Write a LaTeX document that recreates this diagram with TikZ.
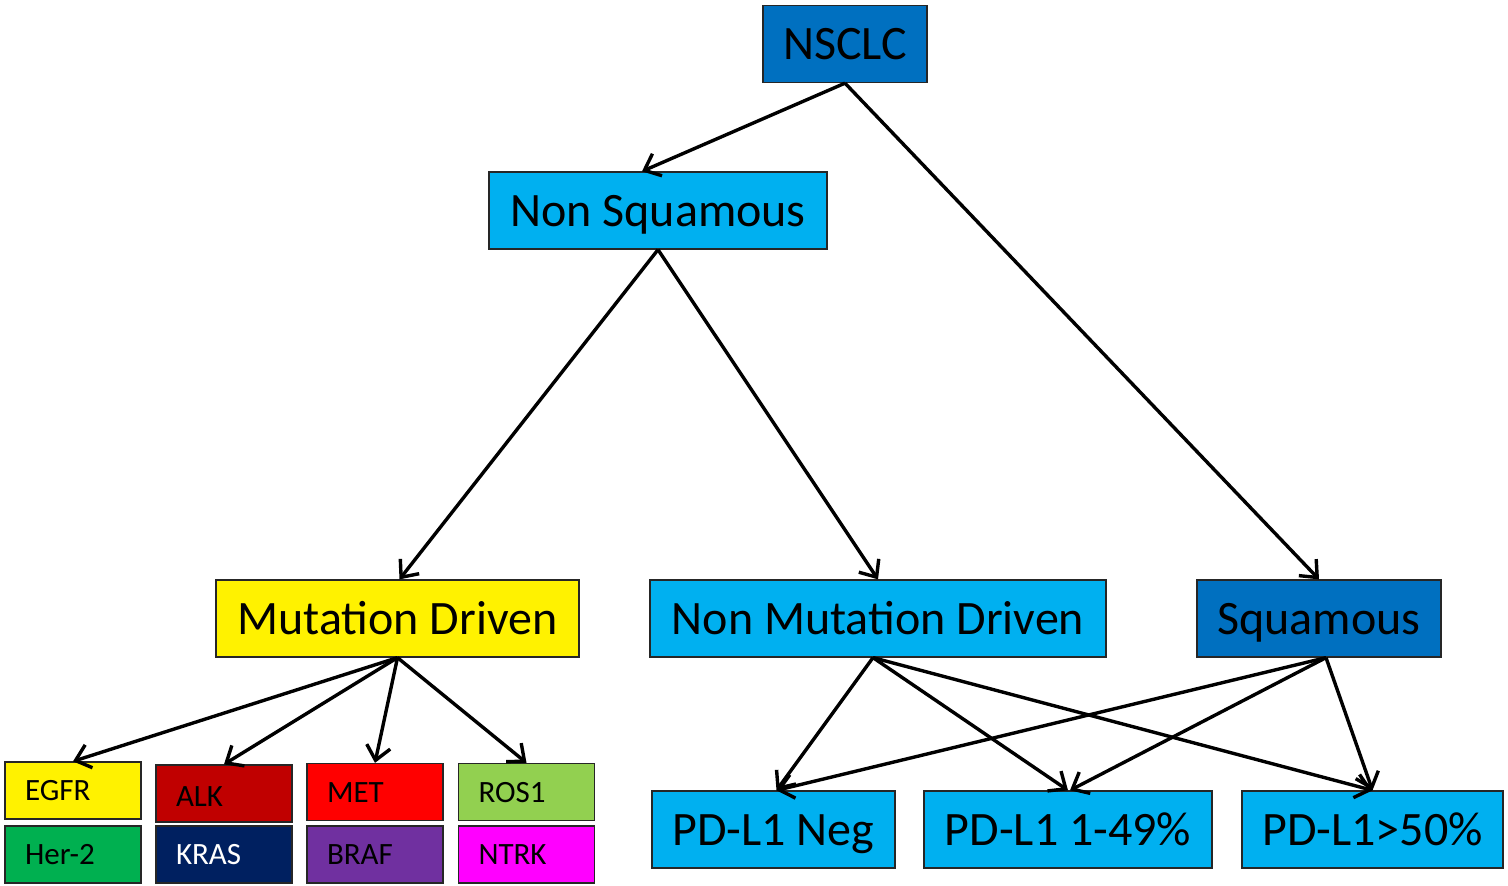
\documentclass[tikz,border=0pt]{standalone}
\usepackage{fontspec}
\setmainfont{Carlito}
\usetikzlibrary{arrows.meta}
\definecolor{dblue}{HTML}{0070C0}
\definecolor{lblue}{HTML}{00B0F0}
\definecolor{cgreen}{HTML}{00B050}
\definecolor{cdred}{HTML}{C00000}
\definecolor{cnavy}{HTML}{002060}
\definecolor{cpurple}{HTML}{7030A0}
\definecolor{clgreen}{HTML}{92D050}
\definecolor{cmag}{HTML}{FF00FF}
\definecolor{bord}{HTML}{262626}
\begin{document}
\begin{tikzpicture}[x=1pt,y=-1pt,
  bigbox/.style={draw=bord,line width=1.3pt,inner sep=0pt,minimum height=77pt,
    text height=31pt,text depth=0pt,font=\fontsize{48}{52}\selectfont},
  smallbox/.style={draw=bord,line width=1.3pt,inner ysep=0pt,inner xsep=20pt,
    text width=96pt,align=left,minimum height=57pt,text height=20pt,text depth=0pt,
    font=\fontsize{31}{34}\selectfont},
  arr/.style={line width=3.4pt,-{Straight Barb[length=14pt,width=24pt,line width=3.4pt]}}]
\useasboundingbox (0,0) rectangle (1508,886);
\node[bigbox,fill=dblue,minimum width=164pt] (nsclc) at (845,44) {NSCLC};
\node[bigbox,fill=lblue,minimum width=338pt] (ns) at (658,210.5) {Non Squamous};
\node[bigbox,fill=yellow,minimum width=363pt] (md) at (397.5,618.5) {Mutation Driven};
\node[bigbox,fill=lblue,minimum width=456pt] (nmd) at (878,618.5) {Non Mutation Driven};
\node[bigbox,fill=dblue,minimum width=244pt] (sq) at (1319,618.5) {Squamous};
\node[bigbox,fill=lblue,minimum width=243pt] (pdn) at (773.5,829.5) {PD-L1 Neg};
\node[bigbox,fill=lblue,minimum width=288pt] (pdm) at (1068,829.5) {PD-L1 1-49\%};
\node[bigbox,fill=lblue,minimum width=261pt] (pdh) at (1372.5,829.5) {PD-L1>50\%};
\node[smallbox,fill=yellow] (egfr) at (73,790.5) {EGFR};
\node[smallbox,fill=cgreen] (her) at (73,854.5) {Her-2};
\node[smallbox,fill=cdred] (alk) at (224,793.5) {\raisebox{-3pt}{ALK}};
\node[smallbox,fill=cnavy,text=white] (kras) at (224,854.5) {KRAS};
\node[smallbox,fill=red] (met) at (375,792) {MET};
\node[smallbox,fill=cpurple] (braf) at (375,854.5) {BRAF};
\node[smallbox,fill=clgreen] (ros) at (526.5,792) {ROS1};
\node[smallbox,fill=cmag] (ntrk) at (526.5,854.5) {NTRK};
\draw[arr] (nsclc.south) -- ([xshift=-16pt]ns.north);
\draw[arr] (nsclc.south) -- (sq.north);
\draw[arr] (ns.south) -- ([xshift=2pt]md.north);
\draw[arr] (ns.south) -- (nmd.north);
\draw[arr] (md.south) -- (egfr.north);
\draw[arr] (md.south) -- (alk.north);
\draw[arr] (md.south) -- (met.north);
\draw[arr] (md.south) -- (ros.north);
\draw[arr] ([xshift=-5pt]nmd.south) -- ([xshift=3pt]pdn.north);
\draw[arr] ([xshift=-5pt]nmd.south) -- (pdm.north);
\draw[arr] ([xshift=-5pt]nmd.south) -- (pdh.north);
\draw[arr] ([xshift=7pt]sq.south) -- ([xshift=3pt]pdn.north);
\draw[arr] ([xshift=7pt]sq.south) -- ([xshift=2pt]pdm.north);
\draw[arr] ([xshift=7pt]sq.south) -- (pdh.north);
\end{tikzpicture}
\end{document}
